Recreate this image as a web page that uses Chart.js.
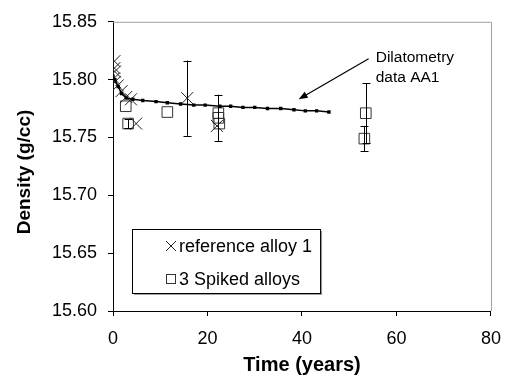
<!DOCTYPE html>
<html>
<head>
<meta charset="utf-8">
<script src="https://cdn.jsdelivr.net/npm/chart.js@4"></script>
<style>
  html, body { margin: 0; padding: 0; background: #fff; }
  #wrap { width: 513px; height: 383px; }
</style>
</head>
<body>
<div id="wrap"><canvas id="densityChart" width="513" height="383"></canvas></div>
<script>
// dilatometry curve (AA1)
const dilaTime = [0, 0.4, 1.1, 1.8, 2.8, 4.2, 6.3, 9.1, 11.5, 14.3, 17.1, 19.5, 22.6, 24.9, 27.5, 30.0, 32.7, 35.5, 38.3, 40.7, 43.1, 45.7];
const dilaDensity = [15.803, 15.800, 15.794, 15.788, 15.784, 15.783, 15.782, 15.781, 15.780, 15.779, 15.778, 15.778, 15.777, 15.777, 15.776, 15.776, 15.775, 15.775, 15.774, 15.773, 15.773, 15.772];

// reference alloy 1
const refTime = [0.3, 0.3, 0.4, 0.2, 0.4, 1.0, 1.8, 2.8, 3.8, 4.9, 15.7, 22.0];
const refDensity = [15.816, 15.810, 15.807, 15.801, 15.798, 15.795, 15.790, 15.785, 15.783, 15.762, 15.784, 15.760];
const refError = [0, 0, 0, 0, 0, 0, 0, 0, 0, 0, 0.0325, 0];

// 3 spiked alloys
const spikedTime = [2.7, 3.2, 11.5, 22.3, 22.3, 22.5, 53.2, 53.5];
const spikedDensity = [15.777, 15.762, 15.772, 15.771, 15.767, 15.762, 15.749, 15.771];
const spikedError = [0, 0.004, 0, 0, 0.020, 0, 0.011, 0.026];

const xTicks = [0, 20, 40, 60, 80];
const yTicks = [15.60, 15.65, 15.70, 15.75, 15.80, 15.85];

const xTitle = 'Time (years)';
const yTitle = 'Density (g/cc)';
const noteLines = ['Dilatometry', 'data AA1'];
const noteAt = [55.6, 15.819];
const arrowFrom = [54.1, 15.818];
const arrowTo = [39.3, 15.783];

function toPoints(xs, ys) {
    return xs.map((x, i) => ({ x: x, y: ys[i] }));
}

const font = 'Arial, "Liberation Sans", sans-serif';

// gray frame on top/right, like the excel plot area
const framePlugin = {
    id: 'frame',
    beforeDatasetsDraw(chart) {
        const { ctx, chartArea: a } = chart;
        ctx.save();
        ctx.strokeStyle = '#a0a0a0';
        ctx.lineWidth = 1;
        ctx.beginPath();
        ctx.moveTo(a.left, a.top + 0.5);
        ctx.lineTo(a.right + 0.5, a.top + 0.5);
        ctx.lineTo(a.right + 0.5, a.bottom);
        ctx.stroke();
        ctx.restore();
    }
};

// vertical error bars
const errorBarPlugin = {
    id: 'errorBars',
    afterDatasetsDraw(chart) {
        const { ctx, scales: { x, y } } = chart;
        ctx.save();
        ctx.strokeStyle = '#000';
        ctx.lineWidth = 1;
        chart.data.datasets.forEach(ds => {
            if (!ds.errors) return;
            ds.data.forEach((p, i) => {
                const e = ds.errors[i];
                if (!e) return;
                const px = Math.round(x.getPixelForValue(p.x)) + 0.5;
                const top = y.getPixelForValue(p.y + e);
                const bot = y.getPixelForValue(p.y - e);
                ctx.beginPath();
                ctx.moveTo(px, top);
                ctx.lineTo(px, bot);
                ctx.moveTo(px - 4, Math.round(top) + 0.5);
                ctx.lineTo(px + 4, Math.round(top) + 0.5);
                ctx.moveTo(px - 4, Math.round(bot) + 0.5);
                ctx.lineTo(px + 4, Math.round(bot) + 0.5);
                ctx.stroke();
            });
        });
        ctx.restore();
    }
};

// arrow + note for dilatometry curve, and the y axis title
const notePlugin = {
    id: 'note',
    afterDatasetsDraw(chart) {
        const { ctx, scales: { x, y } } = chart;
        const x1 = x.getPixelForValue(arrowFrom[0]), y1 = y.getPixelForValue(arrowFrom[1]);
        const x2 = x.getPixelForValue(arrowTo[0]), y2 = y.getPixelForValue(arrowTo[1]);
        const ang = Math.atan2(y2 - y1, x2 - x1);
        ctx.save();
        ctx.strokeStyle = '#000';
        ctx.fillStyle = '#000';
        ctx.lineWidth = 1.2;
        ctx.beginPath();
        ctx.moveTo(x1, y1);
        ctx.lineTo(x2 - 6 * Math.cos(ang), y2 - 6 * Math.sin(ang));
        ctx.stroke();
        ctx.beginPath();
        ctx.moveTo(x2, y2);
        ctx.lineTo(x2 - 9 * Math.cos(ang) + 3.5 * Math.sin(ang), y2 - 9 * Math.sin(ang) - 3.5 * Math.cos(ang));
        ctx.lineTo(x2 - 9 * Math.cos(ang) - 3.5 * Math.sin(ang), y2 - 9 * Math.sin(ang) + 3.5 * Math.cos(ang));
        ctx.closePath();
        ctx.fill();
        ctx.font = '15.5px ' + font;
        ctx.textBaseline = 'middle';
        const tx = x.getPixelForValue(noteAt[0]);
        const ty = y.getPixelForValue(noteAt[1]);
        noteLines.forEach((line, i) => ctx.fillText(line, tx, ty + i * 20));

        // y title sits a bit below the plot middle in the original
        ctx.translate(25, 172);
        ctx.rotate(-Math.PI / 2);
        ctx.font = 'bold 19px ' + font;
        ctx.textAlign = 'center';
        ctx.fillText(yTitle, 0, 0);
        ctx.restore();
    }
};

// boxed legend inside the plot (only the two measured series)
const legendPlugin = {
    id: 'boxLegend',
    afterDraw(chart) {
        const { ctx } = chart;
        const items = chart.data.datasets.filter(ds => ds.inLegend);
        ctx.save();
        ctx.font = '18px ' + font;
        const textW = Math.max(...items.map(ds => ctx.measureText(ds.label).width));
        const box = { left: 132, top: 229, width: 47 + textW + 8, height: 64 };
        ctx.fillStyle = '#a0a0a0';
        ctx.fillRect(box.left + 2, box.top + box.height, box.width, 2);
        ctx.fillRect(box.left + box.width, box.top + 2, 2, box.height);
        ctx.fillStyle = '#fff';
        ctx.fillRect(box.left, box.top, box.width, box.height);
        ctx.strokeStyle = '#000';
        ctx.lineWidth = 1;
        ctx.strokeRect(box.left + 0.5, box.top + 0.5, box.width, box.height);
        ctx.textBaseline = 'middle';
        ctx.fillStyle = '#000';
        items.forEach((ds, i) => {
            const cy = box.top + 17 + i * 33;
            const cx = box.left + 39;
            ctx.strokeStyle = ds.borderColor;
            ctx.beginPath();
            if (ds.pointStyle === 'crossRot') {
                ctx.moveTo(cx - 5, cy - 5); ctx.lineTo(cx + 5, cy + 5);
                ctx.moveTo(cx + 5, cy - 5); ctx.lineTo(cx - 5, cy + 5);
                ctx.stroke();
            } else {
                ctx.strokeRect(cx - 4.5, cy - 4.5, 9, 9);
            }
            ctx.fillText(ds.label, cx + 8, cy + 1);
        });
        ctx.restore();
    }
};

const ctx = document.getElementById('densityChart').getContext('2d');
new Chart(ctx, {
    type: 'scatter',
    data: {
        datasets: [
            {
                label: 'Dilatometry data AA1',
                type: 'line',
                data: toPoints(dilaTime, dilaDensity),
                borderColor: '#000',
                borderWidth: 1.5,
                pointStyle: 'rect',
                pointRadius: 2.4,
                pointBackgroundColor: '#000',
                pointBorderWidth: 0,
                tension: 0,
                fill: false
            },
            {
                label: 'reference alloy 1',
                data: toPoints(refTime, refDensity),
                errors: refError,
                inLegend: true,
                pointStyle: 'crossRot',
                pointRadius: 8.5,
                borderColor: '#222',
                borderWidth: 1,
                backgroundColor: 'transparent'
            },
            {
                label: '3 Spiked alloys',
                data: toPoints(spikedTime, spikedDensity),
                errors: spikedError,
                inLegend: true,
                pointStyle: 'rect',
                pointRadius: 7.5,
                borderColor: '#333',
                borderWidth: 1,
                backgroundColor: 'transparent'
            }
        ]
    },
    options: {
        responsive: false,
        animation: false,
        layout: { padding: { top: 13, right: 16, left: 0, bottom: 0 } },
        plugins: {
            legend: { display: false },
            tooltip: { enabled: false }
        },
        scales: {
            x: {
                type: 'linear',
                min: xTicks[0],
                max: xTicks[xTicks.length - 1],
                afterBuildTicks: s => { s.ticks = xTicks.map(v => ({ value: v })); },
                afterFit: s => { s.height = 72; },
                ticks: { color: '#000', font: { family: font, size: 18 }, padding: 12, maxRotation: 0 },
                grid: { drawOnChartArea: false, drawTicks: true, tickLength: 5, color: '#000' },
                border: { color: '#000', width: 1 },
                title: { display: true, text: xTitle, color: '#000', font: { family: font, size: 20, weight: 'bold' }, padding: { top: 0, bottom: 6 } }
            },
            y: {
                type: 'linear',
                min: yTicks[0],
                max: yTicks[yTicks.length - 1],
                afterBuildTicks: s => { s.ticks = yTicks.map(v => ({ value: v })); },
                afterFit: s => { s.width = 113; },
                ticks: { color: '#000', font: { family: font, size: 18 }, padding: 11, callback: v => v.toFixed(2) },
                grid: { drawOnChartArea: false, drawTicks: true, tickLength: 5, color: '#000' },
                border: { color: '#000', width: 1 }
            }
        }
    },
    plugins: [framePlugin, errorBarPlugin, notePlugin, legendPlugin]
});
</script>
</body>
</html>
